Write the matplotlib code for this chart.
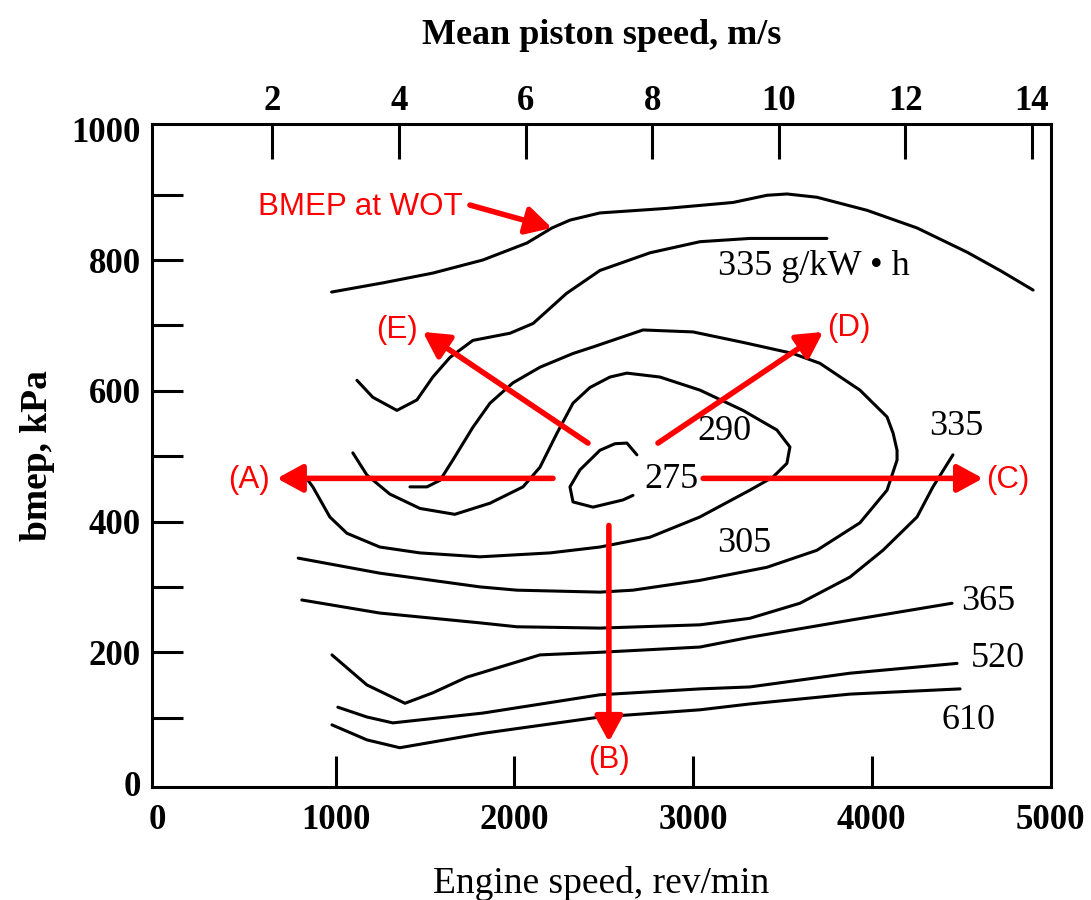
import matplotlib.pyplot as plt

# fuel consumption map of an SI engine
# engine speed in rev/min, bmep in kPa

wot_speed = [976, 1263, 1543, 1823, 2070, 2210, 2311, 2479, 2854, 3224, 3414, 3527,
             3694, 3975, 4255, 4535, 4720, 4905]
wot_bmep = [751, 765, 780, 800, 826, 849, 861, 872, 879, 888, 899, 901,
            896, 876, 849, 812, 784, 754]

# 335 g/kW.h, upper branch
bsfc335_top_speed = [1118, 1207, 1342, 1454, 1543, 1639, 1767, 1975, 2105, 2292, 2479,
                     2759, 3039, 3319, 3750]
bsfc335_top_bmep = [616, 590, 570, 586, 621, 651, 677, 688, 703, 749, 784,
                    811, 828, 833, 833]

# 305 loop (starts with the small hook)
bsfc305_speed = [1415, 1510, 1583, 1655, 1767, 1863, 1991, 2143, 2328, 2440, 2720, 3000,
                 3280, 3560, 3711, 3935, 4087, 4121, 4143, 4143, 4087, 3935, 3694,
                 3414, 3039, 2664, 2479, 2014, 1807, 1246, 789]
bsfc305_bmep = [453, 453, 463, 494, 544, 581, 612, 636, 657, 667, 693, 690,
                674, 657, 642, 601, 560, 535, 509, 494, 448, 398, 356,
                330, 310, 295, 292, 295, 300, 321, 344]

# 290 contour
bsfc290_speed = [1095, 1174, 1302, 1471, 1666, 1863, 2048, 2143, 2238, 2328, 2423, 2535,
                 2630, 2815, 3039, 3280, 3470, 3543, 3526, 3448, 3319, 3039, 2759,
                 2479, 2199, 1807, 1471, 1246, 1062, 966, 871, 798]
bsfc290_bmep = [505, 471, 442, 420, 411, 428, 453, 483, 535, 581, 605, 621,
                627, 621, 601, 570, 540, 514, 489, 468, 448, 407, 376,
                361, 352, 346, 352, 361, 382, 407, 453, 480]

# 275 island
bsfc275_speed = [2686, 2630, 2563, 2479, 2367, 2311, 2328, 2440, 2608, 2664]
bsfc275_bmep = [502, 520, 519, 509, 479, 453, 430, 422, 433, 440]

# 335 g/kW.h, lower branch
bsfc335_low_speed = [809, 1246, 1807, 2014, 2479, 3039, 3319, 3599, 3879, 4064, 4255,
                     4344, 4456]
bsfc335_low_bmep = [280, 260, 245, 239, 237, 242, 252, 275, 315, 356, 407,
                    453, 502]

bsfc365_speed = [978, 1174, 1387, 1543, 1734, 2143, 2479, 3039, 3319, 3879, 4451]
bsfc365_bmep = [196, 150, 122, 138, 162, 196, 200, 208, 223, 249, 275]

bsfc520_speed = [1011, 1174, 1319, 1823, 2479, 3039, 3319, 3879, 4479]
bsfc520_bmep = [116, 101, 92, 107, 135, 144, 147, 168, 183]

bsfc610_speed = [978, 1174, 1358, 1823, 2479, 3039, 3319, 3879, 4496]
bsfc610_bmep = [89, 66, 54, 76, 101, 112, 121, 136, 144]

x_ticks = [0, 1000, 2000, 3000, 4000, 5000]
y_ticks = [0, 200, 400, 600, 800, 1000]
y_minor = [100, 300, 500, 700, 900]
piston_ticks = [2, 4, 6, 8, 10, 12, 14]


def rpm_to_mps(n):
    return (n + 64) / 354.5


def mps_to_rpm(v):
    return v * 354.5 - 64


serif = 'Liberation Serif'
sans = 'Liberation Sans'

fig = plt.figure(figsize=(10.91, 9.0), dpi=100)
ax = fig.add_axes([0.1393, 0.1256, 0.824, 0.7366])

curves = [(wot_speed, wot_bmep),
          (bsfc335_top_speed, bsfc335_top_bmep),
          (bsfc305_speed, bsfc305_bmep),
          (bsfc290_speed, bsfc290_bmep),
          (bsfc275_speed, bsfc275_bmep),
          (bsfc335_low_speed, bsfc335_low_bmep),
          (bsfc365_speed, bsfc365_bmep),
          (bsfc520_speed, bsfc520_bmep),
          (bsfc610_speed, bsfc610_bmep)]

for spd, bm in curves:
    ax.plot(spd, bm, color='black', lw=2.2, solid_capstyle='round', solid_joinstyle='round')

ax.set_xlim(-30, 5005)
ax.set_ylim(-6, 1008)

ax.set_xticks(x_ticks)
ax.set_yticks(y_ticks)
ax.set_yticks(y_minor, minor=True)
ax.tick_params(which='both', direction='in', length=22, width=2.2, top=False, right=False)
ax.tick_params(axis='x', pad=12)
ax.tick_params(axis='y', pad=8)
for lab in ax.get_xticklabels() + ax.get_yticklabels():
    lab.set_fontfamily(serif)
    lab.set_fontweight('bold')
    lab.set_fontsize(25)

# tick marks that would sit on the frame are not drawn in the original
for t in (ax.xaxis.get_major_ticks()[0], ax.xaxis.get_major_ticks()[-1],
          ax.yaxis.get_major_ticks()[0], ax.yaxis.get_major_ticks()[-1]):
    t.tick1line.set_visible(False)

for sp in ax.spines.values():
    sp.set_linewidth(2.2)

top = ax.secondary_xaxis('top', functions=(rpm_to_mps, mps_to_rpm))
top.set_xticks(piston_ticks)
top.tick_params(direction='in', length=25, width=2.2, pad=4)
for lab in top.get_xticklabels():
    lab.set_fontfamily(serif)
    lab.set_fontweight('bold')
    lab.set_fontsize(25)
top.set_xlabel('Mean piston speed, m/s', fontsize=26, family=serif, weight='bold', labelpad=30)

ax.set_xlabel('Engine speed, rev/min', fontsize=27, family=serif, labelpad=21)
ax.set_ylabel('bmep, kPa', fontsize=27, family=serif, weight='bold', labelpad=12)

# contour values
ax.text(3678, 790, '335 g/kW \u2022 h', fontsize=26, family=serif, ha='center', va='center')
ax.text(3174, 537, '290', fontsize=26, family=serif, ha='center', va='center')
ax.text(2877, 465, '275', fontsize=26, family=serif, ha='center', va='center')
ax.text(3288, 367, '305', fontsize=26, family=serif, ha='center', va='center')
ax.text(4473, 546, '335', fontsize=26, family=serif, ha='center', va='center')
ax.text(4652, 277, '365', fontsize=26, family=serif, ha='center', va='center')
ax.text(4708, 191, '520', fontsize=26, family=serif, ha='center', va='center')
ax.text(4541, 96, '610', fontsize=26, family=serif, ha='center', va='center')

# red annotations
arrow = dict(arrowstyle='-|>,head_length=0.55,head_width=0.3', color='red', lw=4,
             mutation_scale=28, shrinkA=0, shrinkB=0)
ax.annotate('', xy=(2210, 849), xytext=(1751, 884), arrowprops=arrow)
ax.annotate('', xy=(1487, 690), xytext=(2412, 520), arrowprops=arrow)
ax.annotate('', xy=(3729, 690), xytext=(2804, 520), arrowprops=arrow)
ax.annotate('', xy=(670, 466), xytext=(2216, 466), arrowprops=arrow)
ax.annotate('', xy=(4624, 466), xytext=(3057, 466), arrowprops=arrow)
ax.annotate('', xy=(2529, 63), xytext=(2529, 394), arrowprops=arrow)

red = dict(color='red', fontsize=22.5, family=sans, va='center')
ax.text(564, 881, 'BMEP at WOT', ha='left', **red)
ax.text(1342, 693, '(E)', ha='center', **red)
ax.text(3874, 696, '(D)', ha='center', **red)
ax.text(514, 463, '(A)', ha='center', **red)
ax.text(4765, 463, '(C)', ha='center', **red)
ax.text(2529, 35, '(B)', ha='center', **red)

fig.savefig('out.png', dpi=100)
